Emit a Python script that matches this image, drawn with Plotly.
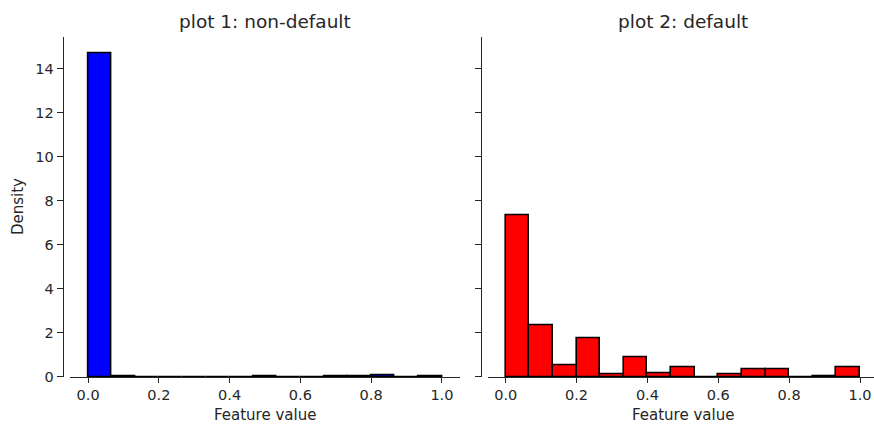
import plotly.graph_objects as go

# Histogram bins: 15 equal bins over [0, 1]
n_bins = 15
bin_edges = [i / n_bins for i in range(n_bins + 1)]

# Densities
density_nondefault = [14.70, 0.03, 0.0, 0.0, 0.0, 0.0, 0.0, 0.03, 0.0, 0.0,
                      0.02, 0.03, 0.07, 0.0, 0.03]
density_default = [7.34, 2.34, 0.52, 1.74, 0.12, 0.89, 0.17, 0.42, 0.0, 0.12,
                   0.34, 0.34, 0.0, 0.04, 0.42]

titles = ["plot 1: non-default", "plot 2: default"]
x_label = "Feature value"
y_label = "Density"
x_ticks = [0.0, 0.2, 0.4, 0.6, 0.8, 1.0]
y_ticks = [0, 2, 4, 6, 8, 10, 12, 14]

centers = [(bin_edges[i] + bin_edges[i + 1]) / 2 for i in range(n_bins)]
widths = [bin_edges[i + 1] - bin_edges[i] for i in range(n_bins)]

W, H = 874, 432
FONT = "DejaVu Sans"
TXT = "#262626"


def px(x):
    return x / W


def py(y):
    return 1 - y / H


fig = go.Figure()
fig.add_trace(go.Bar(x=centers, y=density_nondefault, width=widths,
                     marker=dict(color="#0000ff", line=dict(color="black", width=1.6)),
                     xaxis="x", yaxis="y", showlegend=False))
fig.add_trace(go.Bar(x=centers, y=density_default, width=widths,
                     marker=dict(color="#ff0000", line=dict(color="black", width=1.6)),
                     xaxis="x2", yaxis="y2", showlegend=False))

ymax = 15.43
ydom = [py(384), py(38)]

common_x = dict(showgrid=False, zeroline=False, showline=True, linecolor="#262626",
                linewidth=1.3, ticks="outside", ticklen=5, tickwidth=1.1,
                tickcolor="#262626", tickvals=x_ticks, tickformat=".1f",
                tickfont=dict(family=FONT, size=14.5, color=TXT))
common_y = dict(showgrid=False, zeroline=False, showline=True, linecolor="#262626",
                linewidth=1.3, ticks="outside", ticklen=6, tickwidth=1.1,
                tickcolor="#262626", tickvals=y_ticks, range=[0, ymax],
                domain=ydom, anchor="free",
                tickfont=dict(family=FONT, size=14.5, color=TXT))

x2_right = (874 - 505.7) / 354.3

fig.update_layout(
    width=W, height=H, margin=dict(l=0, r=0, t=0, b=0),
    paper_bgcolor="white", plot_bgcolor="white",
    bargap=0,
    xaxis=dict(common_x, domain=[px(70.4), px(459.6)], range=[-0.05, 1.05], anchor="y"),
    yaxis=dict(common_y, position=px(62.7)),
    xaxis2=dict(common_x, domain=[px(488), 1.0], range=[-0.05, x2_right], anchor="y2"),
    yaxis2=dict(common_y, position=px(480.7), showticklabels=False),
    annotations=[
        dict(text=titles[0], x=px(265), y=py(22), xref="paper", yref="paper",
             showarrow=False, xanchor="center", yanchor="middle",
             font=dict(family=FONT, size=18.5, color=TXT)),
        dict(text=titles[1], x=px(683), y=py(22), xref="paper", yref="paper",
             showarrow=False, xanchor="center", yanchor="middle",
             font=dict(family=FONT, size=18.5, color=TXT)),
        dict(text=x_label, x=px(265), y=py(423), xref="paper", yref="paper",
             showarrow=False, xanchor="center", yanchor="middle",
             font=dict(family=FONT, size=15, color=TXT)),
        dict(text=x_label, x=px(683), y=py(423), xref="paper", yref="paper",
             showarrow=False, xanchor="center", yanchor="middle",
             font=dict(family=FONT, size=15, color=TXT)),
        dict(text=y_label, x=px(18), y=py(211), xref="paper", yref="paper",
             showarrow=False, xanchor="center", yanchor="middle", textangle=-90,
             font=dict(family=FONT, size=15, color=TXT)),
    ],
)

fig.write_html("out.html")
